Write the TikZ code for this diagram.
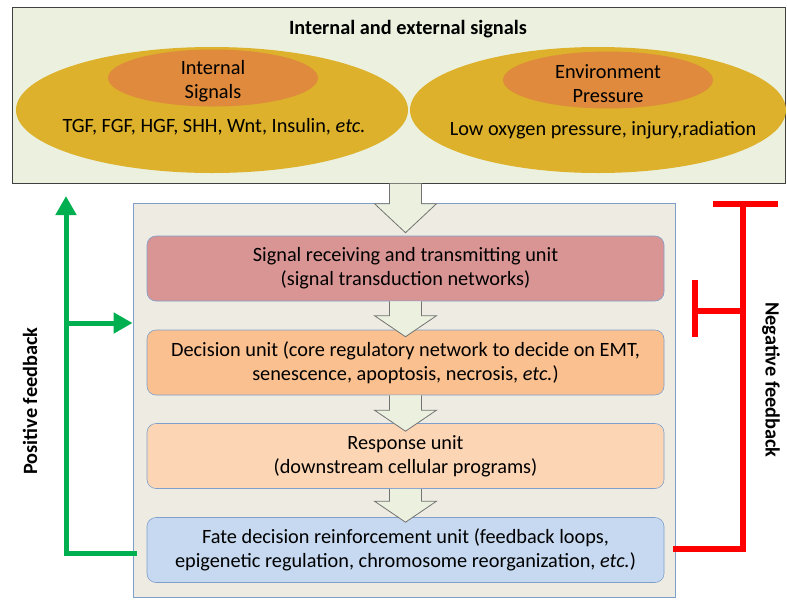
\documentclass[tikz,border=0pt]{standalone}
\usepackage{fontspec}
\setmainfont{Carlito}
\usepackage{xcolor}
\usepackage{tikz}
\usetikzlibrary{arrows.meta, positioning, shapes.geometric, calc}

\definecolor{panelgreen}{HTML}{EBF1DE}
\definecolor{goldfill}{HTML}{DDB12B}
\definecolor{orangefill}{HTML}{DF8A3D}
\definecolor{corefill}{HTML}{EEECE2}
\definecolor{coreline}{HTML}{7F9FCB}
\definecolor{unitred}{HTML}{D99594}
\definecolor{unitorange}{HTML}{FAC08F}
\definecolor{unitpeach}{HTML}{FCD5B4}
\definecolor{unitblue}{HTML}{C6D9F0}
\definecolor{posgreen}{HTML}{00B050}
\definecolor{negred}{HTML}{FF0000}

% block arrow: start point, tip, head length
\newcommand{\flowarrow}[3]{%
  \draw[blockarrow] let \p1=(#1), \p2=(#2) in
    (\x2-16pt,\y1) -- (\x2-16pt,\y2+#3) -- (\x2-31pt,\y2+#3) -- (\x2,\y2)
    -- (\x2+31pt,\y2+#3) -- (\x2+16pt,\y2+#3) -- (\x2+16pt,\y1);}

\begin{document}
\begin{tikzpicture}[x=1pt, y=-1pt,
    txt/.style={font=\fontsize{20.3}{24}\selectfont, align=center},
    bold/.style={font=\fontsize{20.3}{24}\selectfont\bfseries},
    outer/.style={ellipse, fill=goldfill, minimum width=#1, minimum height=126pt, inner sep=0pt},
    inner/.style={ellipse, fill=orangefill, minimum width=210pt, minimum height=57pt, inner sep=0pt},
    unitbox/.style={draw=coreline, line width=0.6pt, rounded corners=9pt, minimum width=517pt, minimum height=65pt, txt},
    blockarrow/.style={draw=black!55, fill=panelgreen, line width=0.8pt},
    posline/.style={draw=posgreen, line width=5pt},
    negline/.style={draw=negred, line width=6pt}]
  \useasboundingbox (0,0) rectangle (787,606);

  % signals panel
  \node[draw=black!75, fill=panelgreen, line width=1pt, minimum width=773pt, minimum height=176pt, inner sep=0pt] (signals) at (398.5,95) {};
  \node[bold] (title) at (408,29) {Internal and external signals};
  \node[outer=392pt] (intout) at (212,110) {};
  \node[inner] (intin) at (213,78) {};
  \node[txt] at (213,81) {Internal\\Signals};
  \node[txt] (intlist) at (214,127) {TGF, FGF, HGF, SHH, Wnt, Insulin, \textit{etc.}};
  \node[outer=376pt] (extout) at (598,110) {};
  \node[inner] (extin) at (608,80) {};
  \node[txt] at (608,84) {Environment\\Pressure};
  \node[txt] (extlist) at (603,130) {Low oxygen pressure, injury,radiation};

  % core box with units
  \node[draw=coreline, fill=corefill, line width=0.8pt, minimum width=542pt, minimum height=394pt, inner sep=0pt] (core) at (404,400) {};
  \node[unitbox, fill=unitred] (u1) at (405.5,268.5) {Signal receiving and transmitting unit\\(signal transduction networks)};
  \node[unitbox, fill=unitorange] (u2) at (405.5,362.5) {Decision unit (core regulatory network to decide on EMT,\\senescence, apoptosis, necrosis, \textit{etc.})};
  \node[unitbox, fill=unitpeach] (u3) at (405.5,456) {Response unit\\(downstream cellular programs)};
  \node[unitbox, fill=unitblue] (u4) at (405.5,550) {Fate decision reinforcement unit (feedback loops,\\epigenetic regulation, chromosome reorganization, \textit{etc.})};

  \flowarrow{signals.south -| u1}{$(u1.north)+(0,-3)$}{29pt}
  \flowarrow{u1.south}{$(u2.north)+(0,7)$}{21pt}
  \flowarrow{u2.south}{$(u3.north)+(0,8)$}{21pt}
  \flowarrow{u3.south}{$(u4.north)+(0,5)$}{21pt}

  % positive feedback
  \coordinate (ptop) at (66,196);
  \coordinate (pbranch) at (66,323);
  \draw[posline, -{Triangle[length=19pt, width=20pt]}] ($(core.west |- u4)+(4,3)$) -| (ptop);
  \draw[posline, -{Triangle[length=19pt, width=20pt]}] (pbranch) -- (pbranch -| core.west);
  \node[bold, rotate=90] (plabel) at (30,401) {Positive feedback};

  % negative feedback
  \coordinate (ntop) at (743,204);
  \coordinate (nbranch) at (743,311);
  \draw[negline] ($(core.east |- u4)+(-2,-1)$) -| (ntop);
  \draw[negline] ($(ntop)+(-30,0)$) -- ($(ntop)+(35,0)$);
  \draw[negline] (nbranch) -- ++(-48,0) coordinate (nbar);
  \draw[negline] ($(nbar)+(0,-31)$) -- ($(nbar)+(0,26)$);
  \node[bold, rotate=-90] (nlabel) at (771,380) {Negative feedback};
\end{tikzpicture}
\end{document}
